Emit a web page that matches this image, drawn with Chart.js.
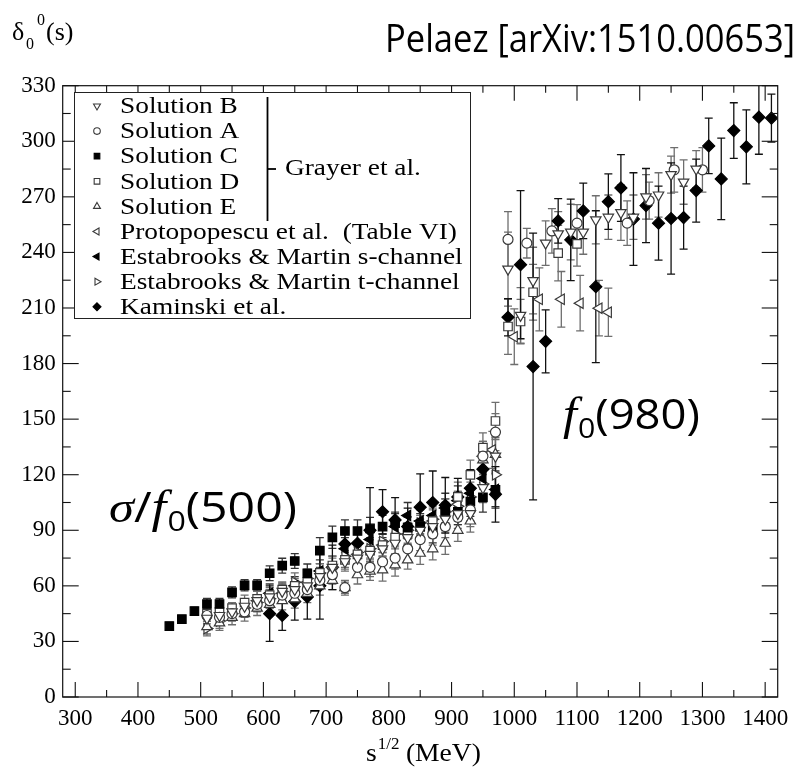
<!DOCTYPE html>
<html>
<head>
<meta charset="utf-8">
<script src="https://cdn.jsdelivr.net/npm/chart.js@4.4.1/dist/chart.umd.min.js"></script>
<style>
  html, body { margin: 0; padding: 0; background: #fff; }
  canvas { display: block; }
</style>
</head>
<body>
<canvas id="phase" width="801" height="768"></canvas>
<script>
// ---- axes ----
const xMajor = [300, 400, 500, 600, 700, 800, 900, 1000, 1100, 1200, 1300, 1400];
const xMinor = [350, 450, 550, 650, 750, 850, 950, 1050, 1150, 1250, 1350];
const yMajor = [0, 30, 60, 90, 120, 150, 180, 210, 240, 270, 300, 330];
const yMinor = [15, 45, 75, 105, 135, 165, 195, 225, 255, 285, 315];

// ---- Grayer et al. ----
const grayerLowE = [510, 530, 550, 570, 590, 610, 630, 650, 670, 690, 710, 730, 750, 770, 790, 810, 830, 850, 870, 890, 910, 930, 950, 970];

// Solution B
const solBE = grayerLowE.concat([990, 1010, 1030, 1050, 1070, 1090, 1110, 1130, 1150, 1170, 1190, 1210, 1230, 1250, 1270, 1290]);
const solBV = [42.5, 44, 46, 49, 52, 54, 57, 58, 60, 65, 70, 73, 75, 77, 80, 83, 86, 90, 92, 96, 99, 99, 113, 130,
               231, 206, 224.8, 245, 250, 251, 251, 257.6, 259, 261.5, 259, 270, 271, 282, 278, 285];
const solBErr = [3, 3, 3, 4, 3, 4, 4, 4, 5, 5, 5, 5, 6, 5, 5, 6, 5, 6, 6, 6, 6, 7, 8, 10,
                 20, 15, 18, 12, 12, 15, 12, 13, 12, 15, 12, 12, 12, 10, 12, 10];

// Solution A
const solAE = grayerLowE.concat([990, 1020, 1060, 1100, 1180, 1215, 1255, 1300]);
const solAV = [44, 43, 45, 46, 50, 52, 55, 56, 58, 63, 66, 59, 70, 70, 73, 75, 80, 85, 88, 92, 97, 101, 130, 143,
               247, 245, 251.6, 255.8, 255.8, 268, 284.6, 284.6];
const solAErr = [3, 3, 3, 3, 4, 4, 4, 4, 5, 5, 5, 3, 5, 5, 5, 6, 6, 6, 6, 6, 6, 6, 8, 10,
                 15, 8, 12, 10, 12, 10, 12, 12];

// Solution C
const solCE = [450, 470, 490].concat(grayerLowE);
const solCV = [38.3, 42, 46.4, 50.2, 50.2, 56.5, 60.3, 60.3, 66.8, 70.9, 73.4, 66.8, 79, 86.2, 89.6, 89.6,
               91, 92, 93.8, 91.4, 92, 90.2, 100, 100, 105.5, 107.8, 111.8];
const solCErr = [2, 2, 2, 3, 3, 3, 3, 3, 4, 4, 4, 5, 7, 6, 6, 6, 6, 6, 6, 6, 7, 7, 7, 7, 8, 8, 9];

// Solution D
const solDE = grayerLowE.concat([990, 1010, 1030, 1070, 1100]);
const solDV = [45, 46, 48, 51, 53, 55, 58, 60, 62, 67, 71, 74, 77, 79, 82, 86, 88, 92, 95, 99, 108, 119.9, 134.6, 149,
               200, 202.7, 218.5, 239.6, 244.6];
const solDErr = [3, 3, 3, 4, 4, 4, 4, 4, 5, 5, 5, 5, 6, 6, 6, 6, 6, 6, 6, 6, 8, 8, 8, 10,
                 15, 12, 15, 15, 12];

// Solution E
const solEE = grayerLowE;
const solEV = [38, 40, 43, 45, 48, 50, 52, 53, 56, 60, 63, 59, 66, 68, 68.6, 71.3, 74, 77.6, 80, 83, 90, 95, 128, 131];
const solEErr = [4, 4, 4, 4, 4, 4, 5, 5, 5, 5, 5, 4, 5, 5, 6, 6, 5, 6, 6, 6, 6, 6, 8, 10];

// ---- Protopopescu et al. (Table VI) ----
const protoE = [590, 630, 670, 710, 750, 790, 830, 870, 910, 950, 965, 1000, 1040, 1075, 1105, 1135, 1150];
const protoV = [52, 56, 62, 70, 77, 82, 88, 95, 104, 130, 133.4, 194.5, 214.7, 214.7, 212.6, 209.9, 207.7];
const protoErr = [5, 5, 5, 6, 6, 6, 6, 7, 7, 8, 10, 15, 17, 15, 15, 15, 13];

// ---- Estabrooks & Martin ----
const emSE = [610, 650, 690, 730, 770, 810, 830, 850, 870, 890, 910, 930, 950, 970];
const emSV = [56, 60, 68, 80, 85, 92, 98, 95, 98, 102, 106, 110, 118, 112];
const emSErr = [5, 5, 6, 6, 6, 7, 7, 7, 7, 8, 8, 8, 9, 10];

const emTE = grayerLowE;
const emTV = [37, 41, 45, 48, 51, 53, 57, 62, 64, 67, 70, 76, 78, 80, 84, 88, 90, 94, 96, 100, 103, 108, 115, 120];
const emTErr = [4, 4, 4, 4, 4, 5, 5, 5, 5, 5, 6, 6, 6, 6, 6, 6, 7, 7, 7, 7, 8, 8, 9, 10];

// ---- Kaminski et al. ----
const kamE = [610, 630, 650, 670, 690, 710, 730, 750, 770, 790, 810, 830, 850, 870, 890, 910, 930, 950, 970,
              990, 1010, 1030, 1050, 1070, 1090, 1110, 1130, 1150, 1170, 1190, 1210, 1230, 1250, 1270, 1290,
              1310, 1330, 1350, 1370, 1390, 1410];
const kamV = [45, 44, 51.5, 54, 60, 70, 82.6, 83, 90, 100, 95.6, 92, 102.5, 105, 103.5, 108, 112.7, 123, 109.4,
              205, 233.4, 178.4, 192, 257, 246.8, 262.4, 221.5, 267.4, 274.8, 258, 265.3, 255.8, 258.3, 258.8, 273.4,
              297.5, 279.7, 305.8, 297, 313, 312.5];
const kamErr = [15, 8, 10, 12, 18, 12, 8, 8, 23, 12, 12, 10, 18, 17, 15, 10, 10, 10, 15,
                10, 40, 72, 17, 12, 22, 15, 41, 15, 18, 25, 20, 20, 30, 17, 17,
                15, 22, 15, 20, 20, 13];

const legendLabels = ['Solution B', 'Solution A', 'Solution C', 'Solution D', 'Solution E',
  'Protopopescu et al.  (Table VI)', 'Estabrooks & Martin s-channel', 'Estabrooks & Martin t-channel', 'Kaminski et al.'];

const OPEN = '#3a3a3a';
const BAR_GRAY = '#6e6e6e';

function pts(E, V) { return E.map((e, i) => ({ x: e, y: V[i] })); }

function series(label, E, V, err, style, rotation, filled, radius, barColor) {
  return {
    label,
    data: pts(E, V),
    errors: err,
    barColor,
    showLine: false,
    pointStyle: style,
    pointRotation: rotation,
    pointRadius: radius,
    pointBorderWidth: 1.2,
    pointBorderColor: filled ? '#000' : OPEN,
    pointBackgroundColor: filled ? '#000' : '#fff',
  };
}

const datasets = [
  series(legendLabels[0], solBE, solBV, solBErr, 'triangle', 180, false, 6, BAR_GRAY),
  series(legendLabels[1], solAE, solAV, solAErr, 'circle', 0, false, 5, BAR_GRAY),
  series(legendLabels[2], solCE, solCV, solCErr, 'rect', 0, true, 6, '#333'),
  series(legendLabels[3], solDE, solDV, solDErr, 'rect', 0, false, 6, BAR_GRAY),
  series(legendLabels[4], solEE, solEV, solEErr, 'triangle', 0, false, 6, BAR_GRAY),
  series(legendLabels[5], protoE, protoV, protoErr, 'triangle', 270, false, 6, BAR_GRAY),
  series(legendLabels[6], emSE, emSV, emSErr, 'triangle', 270, true, 6, '#333'),
  series(legendLabels[7], emTE, emTV, emTErr, 'triangle', 90, false, 6, BAR_GRAY),
  series(legendLabels[8], kamE, kamV, kamErr, 'rectRot', 0, true, 6, '#111'),
];

// vertical error bars with end caps, drawn underneath the markers
const errorBars = {
  id: 'errorBars',
  beforeDatasetsDraw(chart) {
    const { ctx, chartArea: a, scales: { x, y } } = chart;
    ctx.save();
    ctx.beginPath();
    ctx.rect(a.left, a.top, a.right - a.left, a.bottom - a.top);
    ctx.clip();
    ctx.lineWidth = 1.3;
    chart.data.datasets.forEach(ds => {
      ctx.strokeStyle = ds.barColor;
      ds.data.forEach((p, i) => {
        const e = ds.errors[i];
        const px = x.getPixelForValue(p.x);
        const y1 = y.getPixelForValue(p.y + e);
        const y2 = y.getPixelForValue(p.y - e);
        ctx.beginPath();
        ctx.moveTo(px, y1); ctx.lineTo(px, y2);
        ctx.moveTo(px - 4, y1); ctx.lineTo(px + 4, y1);
        ctx.moveTo(px - 4, y2); ctx.lineTo(px + 4, y2);
        ctx.stroke();
      });
    });
    ctx.restore();
  }
};

function marker(ctx, style, rotation, r, x, y, filled) {
  const rad = rotation * Math.PI / 180;
  ctx.beginPath();
  if (style === 'circle') {
    ctx.arc(x, y, r, 0, Math.PI * 2);
  } else if (style === 'rect') {
    const s = Math.SQRT1_2 * r;
    ctx.rect(x - s, y - s, 2 * s, 2 * s);
  } else if (style === 'rectRot') {
    ctx.moveTo(x, y - r); ctx.lineTo(x + r, y); ctx.lineTo(x, y + r); ctx.lineTo(x - r, y);
    ctx.closePath();
  } else {
    let a = rad;
    ctx.moveTo(x + Math.sin(a) * r, y - Math.cos(a) * r);
    a += 2 * Math.PI / 3;
    ctx.lineTo(x + Math.sin(a) * r, y - Math.cos(a) * r);
    a += 2 * Math.PI / 3;
    ctx.lineTo(x + Math.sin(a) * r, y - Math.cos(a) * r);
    ctx.closePath();
  }
  ctx.fillStyle = filled ? '#000' : '#fff';
  ctx.fill();
  ctx.lineWidth = 1.1;
  ctx.strokeStyle = filled ? '#000' : OPEN;
  ctx.stroke();
}

// text made of runs with different fonts / vertical shifts, optionally squeezed to a width
function drawRuns(ctx, runs, x, baseline, targetWidth) {
  let total = 0;
  runs.forEach(r => { ctx.font = r.font; r.w = ctx.measureText(r.text).width; total += r.w + (r.gap || 0); });
  const sx = targetWidth ? targetWidth / total : 1;
  ctx.save();
  ctx.translate(x, baseline);
  ctx.scale(sx, 1);
  let cx = 0;
  runs.forEach(r => {
    ctx.font = r.font;
    ctx.fillText(r.text, cx, r.dy || 0);
    cx += r.w + (r.gap || 0);
  });
  ctx.restore();
}

function serifText(ctx, text, x, y) {
  ctx.save();
  ctx.translate(x, y);
  ctx.scale(1.14, 1);
  ctx.font = '24px "Liberation Serif"';
  ctx.fillText(text, 0, 0);
  ctx.restore();
}

const frameAndText = {
  id: 'frameAndText',
  afterDatasetsDraw(chart) {
    const { ctx, chartArea: a, scales: { x, y } } = chart;
    ctx.save();
    ctx.strokeStyle = '#111';
    ctx.lineWidth = 1.2;
    ctx.strokeRect(a.left, a.top, a.right - a.left, a.bottom - a.top);

    const seg = (x1, y1, x2, y2) => { ctx.beginPath(); ctx.moveTo(x1, y1); ctx.lineTo(x2, y2); ctx.stroke(); };
    ctx.lineWidth = 1.1;
    xMajor.concat(xMinor).forEach(v => {
      const px = x.getPixelForValue(v);
      const L = xMajor.includes(v) ? 15 : 7;
      seg(px, a.bottom, px, a.bottom - L);
      seg(px, a.top, px, a.top + L);
    });
    yMajor.concat(yMinor).forEach(v => {
      const py = y.getPixelForValue(v);
      const L = yMajor.includes(v) ? 16 : 8;
      seg(a.left, py, a.left + L, py);
      seg(a.right, py, a.right - L, py);
    });

    // legend box
    const bx = 74.5, by = 92.5, bw = 396, bh = 226;
    ctx.fillStyle = '#fff';
    ctx.fillRect(bx, by, bw, bh);
    ctx.strokeStyle = '#222';
    ctx.lineWidth = 1;
    ctx.strokeRect(bx, by, bw, bh);
    ctx.textBaseline = 'middle';
    chart.data.datasets.forEach((ds, i) => {
      const ry = 106 + i * 25.1;
      marker(ctx, ds.pointStyle, ds.pointRotation, ds.pointStyle === 'circle' ? 3.3 : 4, 97, ry,
             ds.pointBackgroundColor === '#000');
      ctx.fillStyle = '#000';
      serifText(ctx, ds.label, 120, ry + 1);
    });
    // bracket grouping the Grayer solutions
    ctx.strokeStyle = '#000';
    ctx.lineWidth = 1.8;
    seg(267.5, 97, 267.5, 221);
    seg(267.5, 169, 276, 169);
    ctx.fillStyle = '#000';
    serifText(ctx, 'Grayer et al.', 285, 169);
    ctx.restore();
  },
  afterDraw(chart) {
    const { ctx } = chart;
    ctx.save();
    ctx.fillStyle = '#000';
    ctx.textBaseline = 'alphabetic';
    ctx.textAlign = 'left';
    // y title: delta with sub- and superscript 0
    ctx.font = '26px "Liberation Serif"';
    ctx.fillText('δ', 12, 40);
    ctx.font = '16px "Liberation Serif"';
    ctx.fillText('0', 26, 49);
    ctx.fillText('0', 37, 25);
    ctx.font = '26px "Liberation Serif"';
    ctx.fillText('(s)', 46, 40);
    // x title
    drawRuns(ctx, [
      { text: 's', font: '26px "Liberation Serif"', gap: 1 },
      { text: '1/2', font: '16px "Liberation Serif"', dy: -12, gap: 6 },
      { text: '(MeV)', font: '26px "Liberation Serif"' },
    ], 366, 761, 115);
    // header
    drawRuns(ctx, [{ text: 'Pelaez [arXiv:1510.00653]', font: '38px "Open Sans"' }], 385, 52, 410);
    // resonance annotations
    drawRuns(ctx, [
      { text: 'σ', font: 'italic 44px "Liberation Serif"' },
      { text: '/', font: '42px "Open Sans"' },
      { text: 'f', font: 'italic 46px "Liberation Serif"', gap: 1 },
      { text: '0', font: '28px "Open Sans"', dy: 9 },
      { text: '(500)', font: '42px "Open Sans"' },
    ], 109, 522, 188);
    drawRuns(ctx, [
      { text: 'f', font: 'italic 46px "Liberation Serif"', gap: 1 },
      { text: '0', font: '28px "Open Sans"', dy: 9 },
      { text: '(980)', font: '42px "Open Sans"' },
    ], 563, 429, 137);
    ctx.restore();
  }
};

new Chart(document.getElementById('phase'), {
  type: 'scatter',
  data: { datasets },
  options: {
    responsive: false,
    animation: false,
    layout: { padding: { left: 0, top: 85.7, right: 23.3, bottom: 0 } },
    plugins: { legend: { display: false }, tooltip: { enabled: false } },
    scales: {
      x: {
        type: 'linear', min: 280, max: 1420,
        afterBuildTicks: axis => { axis.ticks = xMajor.map(v => ({ value: v })); },
        afterFit: axis => { axis.height = 71; },
        grid: { display: false, drawTicks: false },
        border: { display: false },
        ticks: { padding: 8, color: '#000', font: { family: '"Liberation Serif"', size: 23 }, maxRotation: 0, autoSkip: false,
                 callback: v => String(v) },
      },
      y: {
        type: 'linear', min: 0, max: 330,
        afterBuildTicks: axis => { axis.ticks = yMajor.map(v => ({ value: v })); },
        afterFit: axis => { axis.width = 62.7; },
        grid: { display: false, drawTicks: false },
        border: { display: false },
        ticks: { padding: 7, color: '#000', font: { family: '"Liberation Serif"', size: 23 },
                 callback: v => String(v) },
      },
    },
  },
  plugins: [errorBars, frameAndText],
});
</script>
</body>
</html>
